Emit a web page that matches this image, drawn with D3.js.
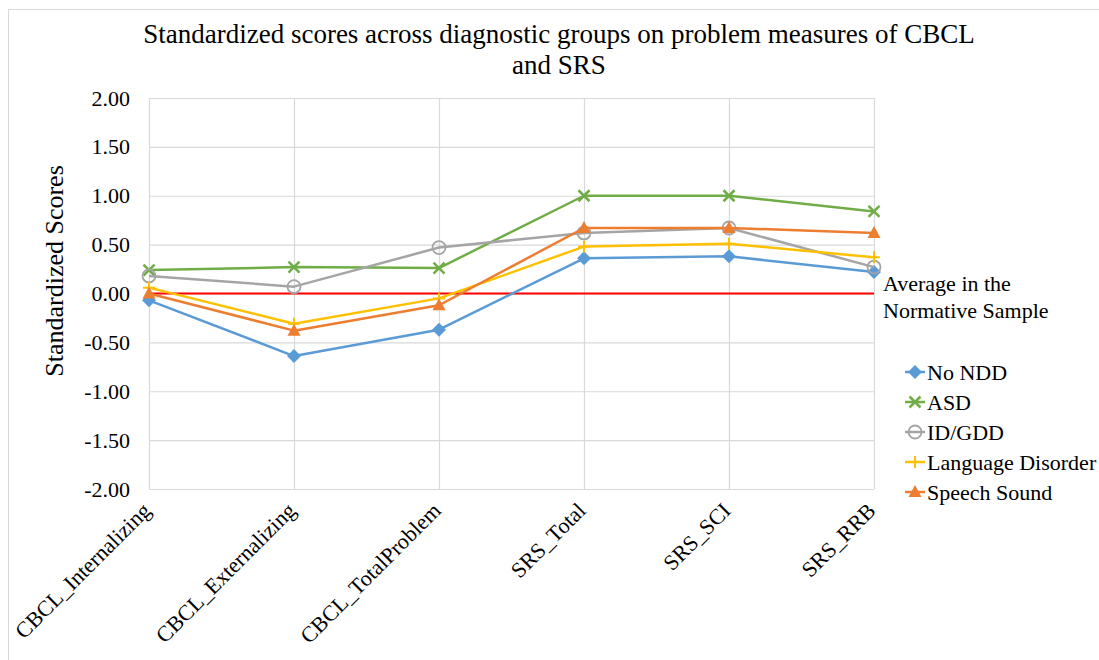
<!DOCTYPE html>
<html>
<meta charset="utf-8">
<title>Standardized scores across diagnostic groups</title>
<script src="https://d3js.org/d3.v7.min.js" charset="utf-8"></script>
<style>
	body { margin: 0; background: #fff; }
	.grid line { stroke: #d9d9d9; stroke-width: 1.2; }
	.grid path { display: none; }
</style>
<body>
<script>

	// categories and series
	var measures = ["CBCL_Internalizing", "CBCL_Externalizing", "CBCL_TotalProblem", "SRS_Total", "SRS_SCI", "SRS_RRB"];
	var noNDD    = [-0.07, -0.64, -0.37, 0.36, 0.38, 0.22];
	var asd      = [0.24, 0.27, 0.26, 1.00, 1.00, 0.84];
	var idGdd    = [0.18, 0.07, 0.47, 0.62, 0.67, 0.27];
	var langDis  = [0.06, -0.31, -0.05, 0.48, 0.51, 0.37];
	var speech   = [0.00, -0.38, -0.12, 0.67, 0.67, 0.62];
	var normAvg  = [0, 0, 0, 0, 0, 0];
	var yTicks   = [-2, -1.5, -1, -0.5, 0, 0.5, 1, 1.5, 2];

	var series = [
		{name: "No NDD", values: noNDD, color: "#5b9bd5", marker: "diamond"},
		{name: "ASD", values: asd, color: "#70ad47", marker: "x"},
		{name: "ID/GDD", values: idGdd, color: "#a5a5a5", marker: "circle"},
		{name: "Language Disorder", values: langDis, color: "#ffc000", marker: "plus"},
		{name: "Speech Sound", values: speech, color: "#ed7d31", marker: "triangle"}
	];

	var serif = "Liberation Serif, DejaVu Serif, serif";
	var width = 1099, height = 660;
	var plot = {left: 149, right: 874, top: 98, bottom: 489};

	var svg = d3.select("body").append("svg")
		.attr("width", width)
		.attr("height", height)
		.attr("font-family", serif);

	// outer chart border (only top/left fall inside the picture)
	svg.append("rect")
		.attr("x", 8.5).attr("y", 9.5)
		.attr("width", width + 20).attr("height", height + 20)
		.attr("fill", "none").attr("stroke", "#d9d9d9");

	var x = d3.scalePoint().domain(measures).range([plot.left, plot.right]);
	var y = d3.scaleLinear().domain([-2, 2]).range([plot.bottom, plot.top]);

	// gridlines
	svg.append("g").attr("class", "grid")
		.attr("transform", "translate(" + plot.left + ",0)")
		.call(d3.axisLeft(y).tickValues(yTicks).tickSize(-(plot.right - plot.left)).tickFormat(""));
	svg.append("g").attr("class", "grid")
		.attr("transform", "translate(0," + plot.bottom + ")")
		.call(d3.axisBottom(x).tickSize(-(plot.bottom - plot.top)).tickFormat(""));

	// y tick labels
	var yAxis = svg.append("g")
		.attr("transform", "translate(" + plot.left + ",0)")
		.call(d3.axisLeft(y).tickValues(yTicks).tickSize(0).tickPadding(19)
			.tickFormat(function(d) { return d.toFixed(2); }));
	yAxis.select(".domain").remove();
	yAxis.attr("font-family", serif).attr("font-size", 22);

	// x tick labels, rotated
	svg.append("g").selectAll("text")
		.data(measures)
		.enter().append("text")
		.attr("transform", function(d) { return "translate(" + (x(d) + 3) + ",512)rotate(-45)"; })
		.attr("text-anchor", "end")
		.attr("font-size", 22)
		.text(function(d) { return d; });

	// axis title
	svg.append("text")
		.attr("transform", "translate(63,271)rotate(-90)")
		.attr("text-anchor", "middle")
		.attr("font-size", 26)
		.text("Standardized Scores");

	// chart title
	var title = svg.append("text")
		.attr("text-anchor", "middle")
		.attr("font-size", 27);
	title.append("tspan").attr("x", 559).attr("y", 43)
		.text("Standardized scores across diagnostic groups on problem measures of CBCL");
	title.append("tspan").attr("x", 559).attr("y", 74)
		.text("and SRS");

	var line = d3.line()
		.x(function(d, i) { return x(measures[i]); })
		.y(function(d) { return y(d); });

	// normative average
	svg.append("path")
		.attr("d", line(normAvg))
		.attr("fill", "none")
		.attr("stroke", "#ff0000")
		.attr("stroke-width", 2);

	svg.append("text").attr("x", 883).attr("y", 283).attr("dy", "0.35em")
		.attr("font-size", 22).text("Average in the");
	svg.append("text").attr("x", 883).attr("y", 310).attr("dy", "0.35em")
		.attr("font-size", 22).text("Normative Sample");

	function drawMarker(g, type, color) {
		if (type === "diamond") {
			g.append("path").attr("d", "M0,-7L7,0L0,7L-7,0Z").attr("fill", color);
		} else if (type === "x") {
			g.append("path").attr("d", "M-5.5,-5.5L5.5,5.5M-5.5,5.5L5.5,-5.5")
				.attr("stroke", color).attr("stroke-width", 2.5).attr("fill", "none");
		} else if (type === "circle") {
			g.append("circle").attr("r", 6.5)
				.attr("fill", "none").attr("stroke", color).attr("stroke-width", 1.8);
		} else if (type === "plus") {
			g.append("path").attr("d", "M-6,0L6,0M0,-6L0,6")
				.attr("stroke", color).attr("stroke-width", 2).attr("fill", "none");
		} else if (type === "triangle") {
			g.append("path").attr("d", "M0,-7L6.5,5L-6.5,5Z").attr("fill", color);
		}
	}

	series.forEach(function(s) {
		svg.append("path")
			.attr("d", line(s.values))
			.attr("fill", "none")
			.attr("stroke", s.color)
			.attr("stroke-width", 2.5)
			.attr("stroke-linejoin", "round");
		s.values.forEach(function(v, i) {
			var g = svg.append("g")
				.attr("transform", "translate(" + x(measures[i]) + "," + y(v) + ")");
			drawMarker(g, s.marker, s.color);
		});
	});

	// legend
	var legend = svg.append("g").attr("transform", "translate(905,372)");
	series.forEach(function(s, i) {
		var g = legend.append("g").attr("transform", "translate(0," + (i * 30) + ")");
		g.append("line").attr("x1", 0).attr("x2", 20)
			.attr("stroke", s.color).attr("stroke-width", 2.5);
		drawMarker(g.append("g").attr("transform", "translate(10,0)"), s.marker, s.color);
		g.append("text").attr("x", 22).attr("dy", "0.35em")
			.attr("font-size", 22).text(s.name);
	});

	svg.selectAll("text").attr("fill", "#000");

</script>
</body>
</html>
